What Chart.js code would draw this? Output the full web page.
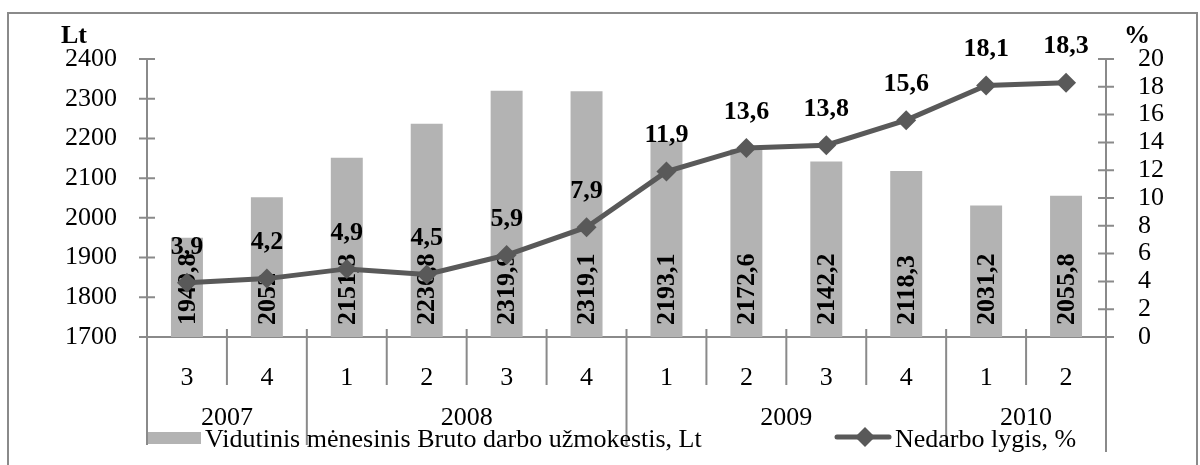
<!DOCTYPE html>
<html><head><meta charset="utf-8">
<script src="https://cdn.jsdelivr.net/npm/chart.js@4.4.1/dist/chart.umd.min.js"></script>
<style>html,body{margin:0;padding:0;background:#fff;}#wrap{width:1200px;height:465px;}</style>
</head><body><div id="wrap"><canvas id="c" width="1200" height="465"></canvas></div>
<script>
// ---- data ----
const quarters = ['3','4','1','2','3','4','1','2','3','4','1','2'];
const years = ['2007','2008','2009','2010'];
const quartersPerYear = [2, 4, 4, 2];
const wages = [1949.8, 2052, 2151.3, 2236.8, 2319.9, 2319.1, 2193.1, 2172.6, 2142.2, 2118.3, 2031.2, 2055.8];
const unemployment = [3.9, 4.2, 4.9, 4.5, 5.9, 7.9, 11.9, 13.6, 13.8, 15.6, 18.1, 18.3];
const wageTicks = [1700, 1800, 1900, 2000, 2100, 2200, 2300, 2400];
const rateTicks = [0, 2, 4, 6, 8, 10, 12, 14, 16, 18, 20];
const wageLabel = 'Vidutinis mėnesinis Bruto darbo užmokestis, Lt';
const rateLabel = 'Nedarbo lygis, %';
const leftTitle = 'Lt';
const rightTitle = '%';

const SERIF = "'Liberation Serif','Times New Roman',serif";
const AXC = '#8a8a8a';
const BARC = '#b3b3b3';
const LINEC = '#595959';
Chart.defaults.font.family = SERIF;
Chart.defaults.color = '#000';

const fmt = v => String(v).replace('.', ',');

function drawBarLabels(chart) {
  const ctx = chart.ctx;
  const meta = chart.getDatasetMeta(0);
  const scale = chart.scales.y;
  const basePx = scale.getPixelForValue(wageTicks[0]);
  ctx.save();
  ctx.fillStyle = '#000';
  ctx.font = 'bold 26px ' + SERIF;
  ctx.textAlign = 'left'; ctx.textBaseline = 'middle';
  meta.data.forEach((el, i) => {
    ctx.save();
    ctx.translate(el.x + 1, basePx - 12);
    ctx.rotate(-Math.PI / 2);
    ctx.fillText(fmt(chart.data.datasets[0].data[i]), 0, 0);
    ctx.restore();
  });
  ctx.restore();
}

const decor = {
  id: 'decor',
  beforeDraw(chart) {
    const ctx = chart.ctx;
    ctx.save(); ctx.fillStyle = '#fff'; ctx.fillRect(0, 0, chart.width, chart.height); ctx.restore();
  },
  beforeDatasetsDraw(chart) {
    const ctx = chart.ctx, a = chart.chartArea;
    const x = chart.scales.x, y = chart.scales.y, y1 = chart.scales.y1;
    ctx.save();
    ctx.strokeStyle = AXC; ctx.lineWidth = 2;
    ctx.beginPath();
    ctx.moveTo(a.left, a.top); ctx.lineTo(a.left, a.bottom);
    ctx.moveTo(a.right, a.top); ctx.lineTo(a.right, a.bottom);
    ctx.moveTo(a.left - 8, a.bottom); ctx.lineTo(a.right + 8, a.bottom);
    y.ticks.forEach(t => { const p = y.getPixelForValue(t.value); ctx.moveTo(a.left - 8, p); ctx.lineTo(a.left + 8, p); });
    y1.ticks.forEach(t => { const p = y1.getPixelForValue(t.value); ctx.moveTo(a.right - 8, p); ctx.lineTo(a.right + 8, p); });
    const n = quarters.length;
    const bounds = [];
    let c = 0; const yearEnds = new Set([0]);
    quartersPerYear.forEach(q => { c += q; yearEnds.add(c); });
    for (let i = 0; i <= n; i++) {
      let px;
      if (i === 0) px = a.left; else if (i === n) px = a.right;
      else px = (x.getPixelForValue(i - 1) + x.getPixelForValue(i)) / 2;
      bounds.push(px);
      const long = yearEnds.has(i);
      ctx.moveTo(px, a.bottom - 8); ctx.lineTo(px, long ? (i === n ? 452 : 445) : 385);
    }
    ctx.stroke();
    ctx.fillStyle = '#000';
    ctx.font = '26px ' + SERIF;
    ctx.textAlign = 'center'; ctx.textBaseline = 'middle';
    c = 0;
    years.forEach((yr, k) => {
      const s = bounds[c], e = bounds[c + quartersPerYear[k]];
      ctx.fillText(yr, (s + e) / 2, 418);
      c += quartersPerYear[k];
    });
    ctx.restore();
  },
  beforeDatasetDraw(chart, args) {
    if (args.index === 1) drawBarLabels(chart);
  },
  afterDatasetsDraw(chart) {
    const ctx = chart.ctx;
    const meta = chart.getDatasetMeta(1);
    ctx.save();
    ctx.fillStyle = '#000';
    ctx.font = 'bold 26px ' + SERIF;
    ctx.textAlign = 'center'; ctx.textBaseline = 'middle';
    meta.data.forEach((el, i) => ctx.fillText(fmt(chart.data.datasets[1].data[i]), el.x, el.y - 36));
    ctx.restore();
  },
  afterDraw(chart) {
    const ctx = chart.ctx;
    ctx.save();
    ctx.fillStyle = '#000';
    ctx.font = 'bold 26px ' + SERIF;
    ctx.textBaseline = 'alphabetic'; ctx.textAlign = 'left';
    ctx.fillText(leftTitle, 61, 43);
    ctx.fillText(rightTitle, 1124, 43);
    const ds = chart.data.datasets;
    ctx.fillStyle = ds[0].backgroundColor;
    ctx.fillRect(148, 432, 53, 12);
    ctx.fillStyle = '#000';
    ctx.font = '26px ' + SERIF;
    ctx.fillText(ds[0].label, 205, 447);
    ctx.strokeStyle = ds[1].borderColor; ctx.lineWidth = 5; ctx.lineCap = 'round';
    ctx.beginPath(); ctx.moveTo(837, 437); ctx.lineTo(889, 437); ctx.stroke();
    ctx.fillStyle = ds[1].borderColor;
    ctx.beginPath(); ctx.moveTo(865, 427); ctx.lineTo(875, 437); ctx.lineTo(865, 447); ctx.lineTo(855, 437); ctx.closePath(); ctx.fill();
    ctx.fillStyle = '#000';
    ctx.fillText(ds[1].label, 895, 447);
    ctx.strokeStyle = AXC; ctx.lineWidth = 2;
    ctx.strokeRect(8, 13, 1189, 470);
    ctx.restore();
  }
};

new Chart(document.getElementById('c'), {
  type: 'bar',
  data: {
    labels: quarters,
    datasets: [
      { type: 'bar', label: wageLabel, data: wages, yAxisID: 'y', backgroundColor: BARC,
        categoryPercentage: 1, barPercentage: 0.4, order: 1 },
      { type: 'line', label: rateLabel, data: unemployment, yAxisID: 'y1', borderColor: LINEC,
        backgroundColor: LINEC, borderWidth: 5, pointStyle: 'rectRot', pointRadius: 10,
        pointBackgroundColor: LINEC, pointBorderWidth: 0, tension: 0, order: 0 }
    ]
  },
  options: {
    responsive: false, animation: false, devicePixelRatio: 1,
    layout: { padding: { top: 59, left: 0, right: 0, bottom: 0 } },
    plugins: { legend: { display: false }, tooltip: { enabled: false } },
    scales: {
      x: {
        grid: { display: false }, border: { display: false },
        ticks: { font: { size: 26 }, color: '#000', padding: 18, maxRotation: 0, autoSkip: false },
        afterFit(s) { s.height = 128; }
      },
      y: {
        position: 'left', min: wageTicks[0], max: wageTicks[wageTicks.length - 1],
        afterBuildTicks(s) { s.ticks = wageTicks.map(v => ({ value: v })); },
        grid: { display: false }, border: { display: false },
        ticks: { font: { size: 26 }, color: '#000', padding: 22, autoSkip: false, callback: v => String(v) },
        afterFit(s) { s.width = 147; }
      },
      y1: {
        position: 'right', min: rateTicks[0], max: rateTicks[rateTicks.length - 1],
        afterBuildTicks(s) { s.ticks = rateTicks.map(v => ({ value: v })); },
        grid: { display: false }, border: { display: false },
        ticks: { font: { size: 26 }, color: '#000', padding: 24, autoSkip: false, callback: v => String(v) },
        afterFit(s) { s.width = 94; }
      }
    }
  },
  plugins: [decor]
});
</script></body></html>
